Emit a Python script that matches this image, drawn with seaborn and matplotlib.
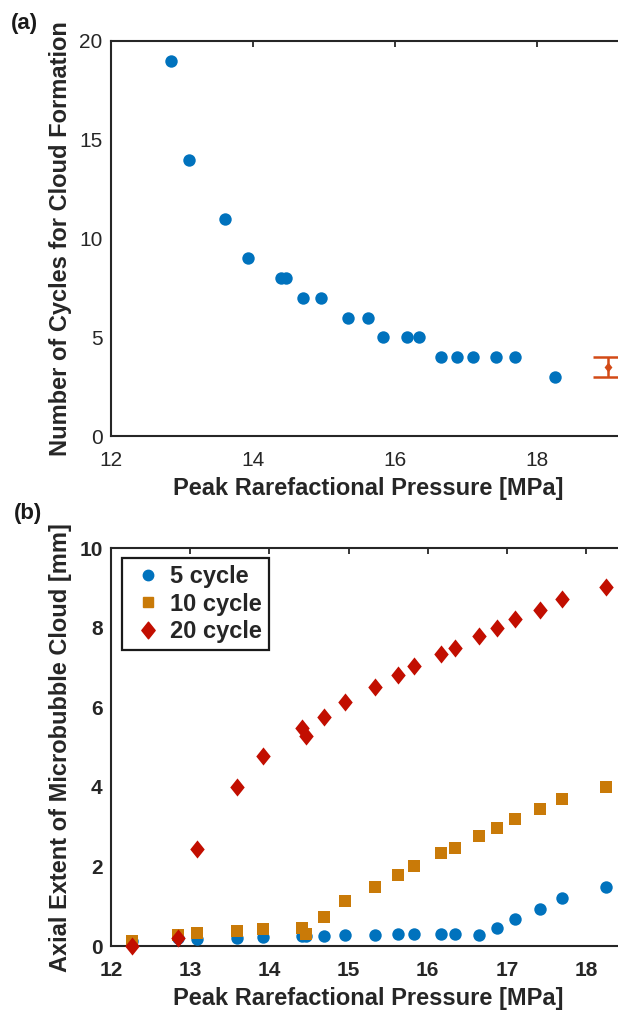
import numpy as np
import pandas as pd
import matplotlib
matplotlib.use("Agg")
import matplotlib.pyplot as plt
import seaborn as sns
from matplotlib.path import Path
from matplotlib.lines import Line2D

# ---------------- data ----------------
# panel (a)
pressure_a = [12.85, 13.10, 13.60, 13.93, 14.40, 14.47, 14.70, 14.96, 15.34, 15.62,
              15.83, 16.17, 16.34, 16.65, 16.88, 17.10, 17.42, 17.69, 18.25]
cycles_a = [19, 14, 11, 9, 8, 8, 7, 7, 6, 6, 5, 5, 5, 4, 4, 4, 4, 4, 3]
err_x = [19.0]
err_y = [3.5]
err_half = [0.5]

# panel (b)
pressure_b = [12.27, 12.84, 13.09, 13.59, 13.92, 14.41, 14.46, 14.69, 14.95, 15.33,
              15.62, 15.82, 16.17, 16.34, 16.65, 16.88, 17.10, 17.42, 17.69, 18.25]
ext_5 = [0.13, 0.20, 0.18, 0.21, 0.23, 0.25, 0.25, 0.26, 0.27, 0.28,
         0.29, 0.29, 0.31, 0.31, 0.27, 0.46, 0.68, 0.92, 1.20, 1.49]
ext_10 = [0.13, 0.28, 0.32, 0.38, 0.42, 0.45, 0.29, 0.72, 1.13, 1.48,
          1.79, 2.01, 2.34, 2.46, 2.77, 2.96, 3.19, 3.44, 3.70, 3.99]
ext_20 = [0.00, 0.19, 2.44, 4.00, 4.78, 5.47, 5.29, 5.75, 6.14, 6.52,
          6.81, 7.05, 7.35, 7.50, 7.79, 7.99, 8.21, 8.45, 8.72, 9.02]
series_labels = ["5 cycle", "10 cycle", "20 cycle"]

xticks_a = [12, 14, 16, 18]
yticks_a = [0, 5, 10, 15, 20]
xticks_b = [12, 13, 14, 15, 16, 17, 18]
yticks_b = [0, 2, 4, 6, 8, 10]

# ---------------- style ----------------
sns.set_style("white")
plt.rcParams["font.family"] = ["Liberation Sans", "DejaVu Sans"]

BLUE = "#0072BD"
ORANGE = "#C97A08"
RED = "#C20E00"
ERR = "#D24A16"
AXC = "#262626"

diamond = Path([(0, 1), (0.8, 0), (0, -1), (-0.8, 0), (0, 1)],
               [Path.MOVETO, Path.LINETO, Path.LINETO, Path.LINETO, Path.CLOSEPOLY])

W, H = 618, 1010
fig = plt.figure(figsize=(W / 100, H / 100), dpi=100)
ax1 = fig.add_axes([111 / W, (H - 436) / H, 514 / W, 395 / H])
ax2 = fig.add_axes([111 / W, (H - 946) / H, 514 / W, 397.7 / H])

LABEL_FS = 17


def style_axes(ax, bold):
    for s in ax.spines.values():
        s.set_color(AXC)
        s.set_linewidth(1.5)
        s.set_visible(True)
    ax.tick_params(direction="in", length=4.5, width=1.3, colors=AXC,
                   top=True, right=True, labelsize=15)
    ax.tick_params(axis="x", pad=10.5)
    ax.tick_params(axis="y", pad=6)
    for lab in ax.get_xticklabels() + ax.get_yticklabels():
        lab.set_color("#262626")
        if bold:
            lab.set_fontweight("bold")


# ---------------- panel (a) ----------------
df_a = pd.DataFrame({"p": pressure_a, "c": cycles_a})
sns.scatterplot(data=df_a, x="p", y="c", ax=ax1, color=BLUE, s=80,
                linewidth=0, marker="o", zorder=3)
ax1.errorbar(err_x, err_y, yerr=err_half, fmt="none", ecolor=ERR,
             elinewidth=1.8, capsize=10.5, capthick=1.8, zorder=3)
sns.scatterplot(x=err_x, y=err_y, ax=ax1, color=ERR, s=50, linewidth=0,
                marker=diamond, zorder=4)
ax1.set_xlim(12, 12 + 514 / 71.0)
ax1.set_ylim(0, 20)
ax1.set_xticks(xticks_a)
ax1.set_yticks(yticks_a)
ax1.set_xlabel("Peak Rarefactional Pressure [MPa]", fontsize=LABEL_FS,
               fontweight="bold", color="#262626", labelpad=5.5)
ax1.set_ylabel("Number of Cycles for Cloud Formation", fontsize=LABEL_FS,
               fontweight="bold", color="#262626", labelpad=5)
style_axes(ax1, bold=False)

# ---------------- panel (b) ----------------
df_b = pd.DataFrame({"p": pressure_b, "e5": ext_5, "e10": ext_10, "e20": ext_20})
sns.scatterplot(data=df_b, x="p", y="e5", ax=ax2, color=BLUE, s=80,
                linewidth=0, marker="o", zorder=3, clip_on=False)
sns.scatterplot(data=df_b, x="p", y="e10", ax=ax2, color=ORANGE, s=85,
                linewidth=0, marker="s", zorder=4, clip_on=False)
sns.scatterplot(data=df_b, x="p", y="e20", ax=ax2, color=RED, s=170,
                linewidth=0, marker=diamond, zorder=5, clip_on=False)
ax2.set_xlim(12, 12 + 514 / 79.2)
ax2.set_ylim(0, 10)
ax2.set_xticks(xticks_b)
ax2.set_yticks(yticks_b)
ax2.set_xlabel("Peak Rarefactional Pressure [MPa]", fontsize=LABEL_FS,
               fontweight="bold", color="#262626", labelpad=5.5)
ax2.set_ylabel("Axial Extent of Microbubble Cloud [mm]", fontsize=LABEL_FS,
               fontweight="bold", color="#262626", labelpad=5)
style_axes(ax2, bold=True)

handles = [
    Line2D([], [], ls="none", marker="o", color=BLUE, markersize=7.5),
    Line2D([], [], ls="none", marker="s", color=ORANGE, markersize=7.5),
    Line2D([], [], ls="none", marker=diamond, color=RED, markersize=12),
]
leg = ax2.legend(handles, series_labels, loc="upper left",
                 bbox_to_anchor=(11 / 514, 1 - 10 / 397.7), borderaxespad=0,
                 frameon=True, fancybox=False, framealpha=1,
                 prop={"weight": "bold", "size": 17}, handletextpad=0.12,
                 handlelength=1.64, labelspacing=0.2, borderpad=0.28)
leg.get_frame().set_edgecolor("#1a1a1a")
leg.get_frame().set_linewidth(1.6)

fig.text(24 / W, 1 - 23 / H, "(a)", fontsize=16, fontweight="bold",
         ha="center", va="center", color="#1a1a1a")
fig.text(28 / W, 1 - 514 / H, "(b)", fontsize=16, fontweight="bold",
         ha="center", va="center", color="#1a1a1a")

fig.savefig("out.png", dpi=100)
